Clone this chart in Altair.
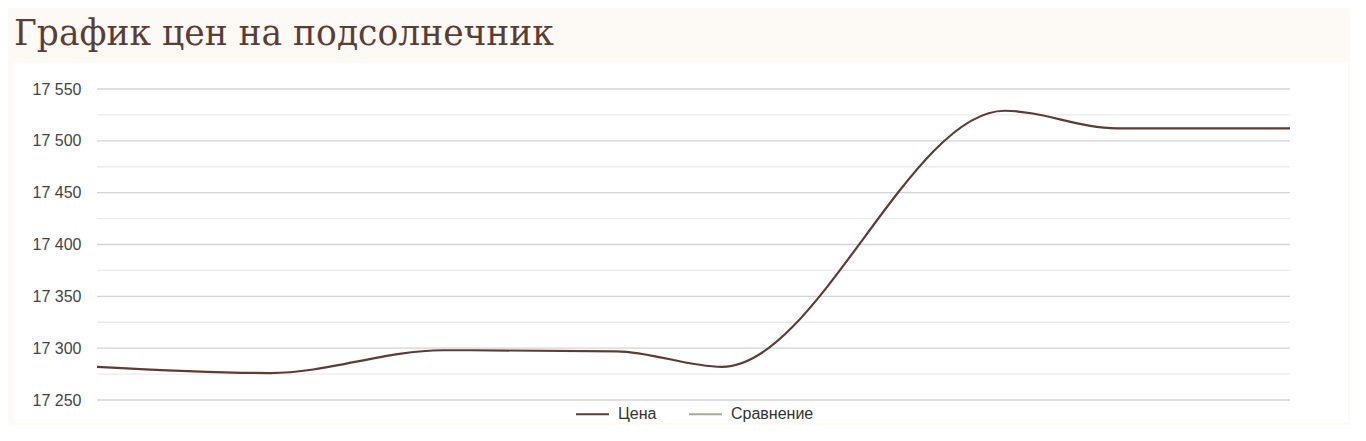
import altair as alt
import pandas as pd

# --- data ---
day = [0, 7.0, 14.0, 21.05, 25.3, 36.75, 41.3, 48.3]
price = [17282, 17276, 17298, 17297, 17282, 17529, 17512, 17512]
series_names = ["Цена", "Сравнение"]
series_colors = ["#5c3d36", "#a8ab98"]
y_ticks = list(range(17250, 17551, 25))

df = pd.DataFrame({"day": day, "price": price, "series": ["Цена"] * len(day)})
grid_df = pd.DataFrame({"tick": y_ticks, "major": [t % 50 == 0 for t in y_ticks]})

W, H = 1193, 311
BG = "#fdf9f5"
yscale = alt.Scale(domain=[17250, 17550], nice=False, zero=False)


def y_axis():
    return alt.Axis(
        values=[t for t in y_ticks if t % 50 == 0],
        labelExpr="replace(format(datum.value, ','), ',', ' ')",
        grid=False,
        ticks=False,
        domain=False,
        zindex=1,
        title=None,
        labelFont="Liberation Sans",
        labelFontSize=16,
        labelColor="#444444",
        labelPadding=16,
    )


panel = alt.Chart(alt.Data(values=[{"a": 1}])).mark_rect(color="white").encode(
    x=alt.value(-83), x2=alt.value(W + 58), y=alt.value(-26), y2=alt.value(H + 23)
)

grid = alt.Chart(grid_df).mark_rule(strokeWidth=1.3).encode(
    y=alt.Y("tick:Q", scale=yscale, axis=y_axis(), title=None),
    x=alt.value(0),
    x2=alt.value(W),
    color=alt.condition("datum.major", alt.value("#d4d4d4"), alt.value("#ececec")),
)

line = alt.Chart(df).mark_line(interpolate="monotone", strokeWidth=2.2).encode(
    x=alt.X("day:Q", axis=None, scale=alt.Scale(domain=[0, 48.3], nice=False, zero=False)),
    y=alt.Y("price:Q", title=None, scale=yscale, axis=y_axis()),
    color=alt.Color(
        "series:N",
        scale=alt.Scale(domain=series_names, range=series_colors),
        legend=alt.Legend(
            title=None,
            orient="none",
            legendX=478,
            legendY=307.5,
            direction="horizontal",
            symbolType="stroke",
            symbolSize=1089,
            symbolStrokeWidth=2,
            labelFont="Liberation Sans",
            labelFontSize=16,
            labelColor="#333333",
            labelOffset=8,
            columnPadding=28,
            padding=0,
        ),
    ),
)

chart = alt.layer(panel, grid, line).properties(
    width=W,
    height=H,
    padding={"left": 89, "top": 81, "right": 60, "bottom": 25},
    autosize=alt.AutoSizeParams(type="none"),
    background=BG,
    title=alt.TitleParams(
        "График цен на подсолнечник",
        anchor="start",
        frame="group",
        dx=-83,
        font="DejaVu Serif",
        fontSize=34.5,
        fontWeight="normal",
        color="#5c3d36",
        offset=11,
    ),
).configure_view(stroke=None)

chart.save("out.html", embed_options={"renderer": "svg", "actions": False})
